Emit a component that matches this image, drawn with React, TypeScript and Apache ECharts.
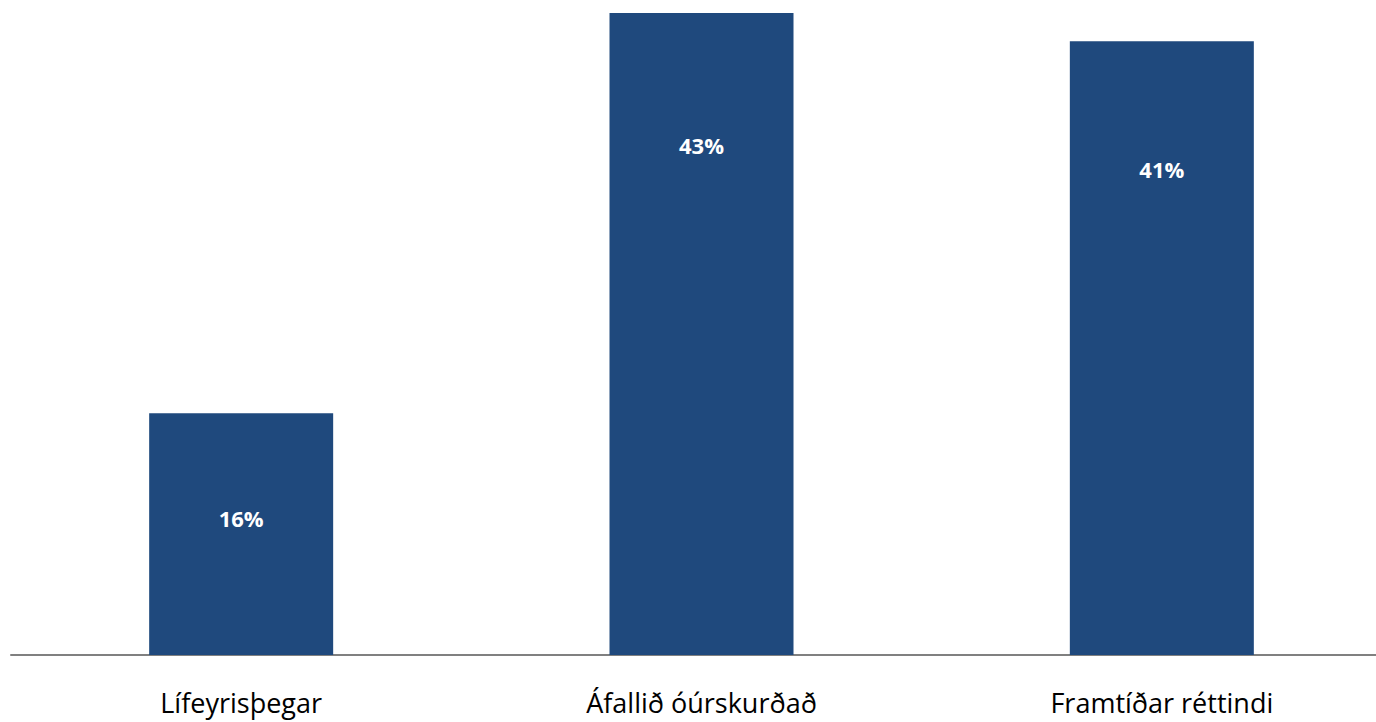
import React, { useEffect, useRef } from "react";
import * as echarts from "echarts";

const categories = ["Lífeyrisþegar", "Áfallið óúrskurðað", "Framtíðar réttindi"];
const values = [16.2, 43.0, 41.1];
const labels = ["16%", "43%", "41%"];
const labelDistances = [94, 121, 117];

export default function App() {
  const ref = useRef<HTMLDivElement>(null);
  useEffect(() => {
    const chart = echarts.init(ref.current!, null, { renderer: "svg" });
    chart.setOption({
      animation: false,
      grid: { left: 11, top: 13, bottom: 67, right: 0, containLabel: false },
      xAxis: {
        type: "category",
        data: categories,
        axisLine: { lineStyle: { color: "#808080", width: 2 } },
        axisTick: { show: false },
        axisLabel: {
          color: "#000000",
          fontFamily: "Open Sans",
          fontSize: 27,
          margin: 34,
        },
      },
      yAxis: {
        type: "value",
        min: 0,
        max: 43,
        show: false,
        splitLine: { show: false },
      },
      series: [
        {
          type: "bar",
          barWidth: 184,
          data: values.map((v, i) => ({
            value: v,
            label: {
              show: true,
              position: "insideTop",
              distance: labelDistances[i],
              formatter: labels[i],
              color: "#ffffff",
              fontFamily: "Open Sans",
              fontWeight: "bold",
              fontSize: 22,
            },
          })),
          itemStyle: { color: "#1F497D" },
        },
      ],
    });
    return () => chart.dispose();
  }, []);
  return (
    <div style={{ width: 1376, height: 722, position: "absolute", left: 0, top: 0, overflow: "hidden" }}>
      <div ref={ref} style={{ width: 1392, height: 722 }} />
    </div>
  );
}
